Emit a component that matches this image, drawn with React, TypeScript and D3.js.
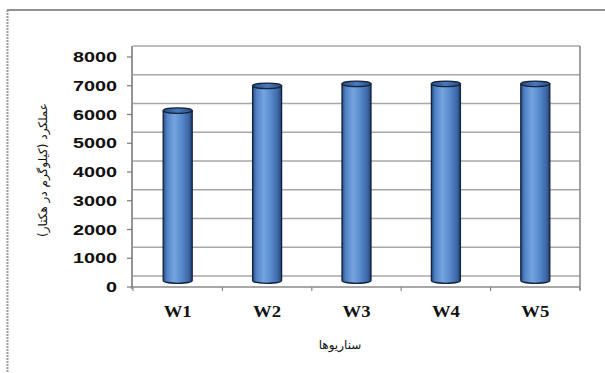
import React from 'react';
import * as d3 from 'd3';

const categories = ['W1', 'W2', 'W3', 'W4', 'W5'];
const values = [5910, 6770, 6840, 6840, 6840];
const yTicks = [0, 1000, 2000, 3000, 4000, 5000, 6000, 7000, 8000];
const yTitle = 'عملکرد (کیلوگرم در هکتار)';
const xTitle = 'سناریوها';

export default function App() {
  const W = 605, H = 373;
  const x0 = 133, x1 = 580;
  const y = d3.scaleLinear().domain([0, 8000]).range([287, 57]);
  const x = d3.scaleBand().domain(categories).range([x0, x1]);
  const wallShift = 11;
  const barShift = 6.5;
  const barW = 29;
  const rx = barW / 2;
  const ry = 2.8;
  const wallTop = y(8000) - wallShift;
  const axisY = y(0);

  return (
    <svg width={W} height={H} style={{ position: 'absolute', left: 0, top: 0, background: '#fff' }}>
      <defs>
        <linearGradient id="barGrad" x1="0" x2="1" y1="0" y2="0">
          <stop offset="0%" stopColor="#27487c" />
          <stop offset="12%" stopColor="#4f80c4" />
          <stop offset="38%" stopColor="#75a4de" />
          <stop offset="65%" stopColor="#5688cb" />
          <stop offset="88%" stopColor="#3c67a6" />
          <stop offset="100%" stopColor="#223f6e" />
        </linearGradient>
        <linearGradient id="topGrad" x1="0" x2="1" y1="0" y2="0">
          <stop offset="0%" stopColor="#2c4d80" />
          <stop offset="50%" stopColor="#4a78b8" />
          <stop offset="100%" stopColor="#2c4d80" />
        </linearGradient>
      </defs>

      {/* outer frame */}
      <line x1={7} x2={W} y1={10} y2={10} stroke="#8f8f8f" strokeWidth={2} />
      <line x1={7.5} x2={7.5} y1={10} y2={H} stroke="#9a9a9a" strokeWidth={2} strokeDasharray="2,1" />

      {/* back wall gridlines */}
      {yTicks.map((t) => (
        <line key={'g' + t} x1={x0} x2={x1} y1={y(t) - wallShift} y2={y(t) - wallShift}
          stroke="#a8a8a8" strokeWidth={1.6} />
      ))}
      {/* right wall edge */}
      <line x1={x1} x2={x1} y1={wallTop} y2={axisY + 3} stroke="#8a8a8a" strokeWidth={1.6} />

      {/* y axis */}
      <line x1={x0 - 1} x2={x0 - 1} y1={wallTop} y2={axisY + 2} stroke="#7a7a7a" strokeWidth={1.6} />
      {yTicks.map((t) => (
        <g key={'t' + t}>
          <line x1={x0 - 6} x2={x0 - 1} y1={y(t)} y2={y(t)} stroke="#7a7a7a" strokeWidth={1.2} />
          <text x={117} y={y(t)} dy="0.36em" textAnchor="end" fontFamily="Liberation Sans, Arial, sans-serif"
            fontWeight="bold" fontSize={14} fill="#111"
            textLength={String(t).length * 11} lengthAdjust="spacingAndGlyphs">{t}</text>
        </g>
      ))}

      {/* x axis */}
      <line x1={x0 - 1} x2={x1} y1={axisY} y2={axisY} stroke="#8a8a8a" strokeWidth={1.6} />
      {categories.concat(['__end']).map((c, i) => {
        const xx = i < categories.length ? (x(c) as number) : x1;
        return <line key={'xt' + i} x1={xx} x2={xx} y1={axisY} y2={axisY + 4} stroke="#8a8a8a" strokeWidth={1.2} />;
      })}

      {/* bars */}
      {categories.map((c, i) => {
        const cx = (x(c) as number) + x.bandwidth() / 2;
        const top = y(values[i]) - barShift;
        const bot = y(0) - barShift;
        const l = cx - rx, r = cx + rx;
        const d = `M${l},${top} L${l},${bot} A${rx},${ry} 0 0 0 ${r},${bot} L${r},${top} Z`;
        return (
          <g key={'b' + c}>
            <path d={d} fill="url(#barGrad)" stroke="#13243d" strokeWidth={1.3} />
            <ellipse cx={cx} cy={top} rx={rx} ry={ry} fill="url(#topGrad)" stroke="#13243d" strokeWidth={1.3} />
          </g>
        );
      })}

      {/* x labels */}
      {categories.map((c) => (
        <text key={'xl' + c} x={(x(c) as number) + x.bandwidth() / 2} y={317} textAnchor="middle"
          fontFamily="Liberation Serif, Times New Roman, serif" fontWeight="bold" fontSize={16} fill="#111"
          textLength={28} lengthAdjust="spacingAndGlyphs">{c}</text>
      ))}

      {/* axis titles */}
      <text x={340} y={349} textAnchor="middle" fontFamily="DejaVu Sans, sans-serif" fontSize={12}
        fill="#111" direction="rtl">{xTitle}</text>
      <text transform="translate(47,170) rotate(-90)" textAnchor="middle" fontFamily="DejaVu Sans, sans-serif"
        fontSize={12} fill="#111" direction="rtl">{yTitle}</text>
    </svg>
  );
}
